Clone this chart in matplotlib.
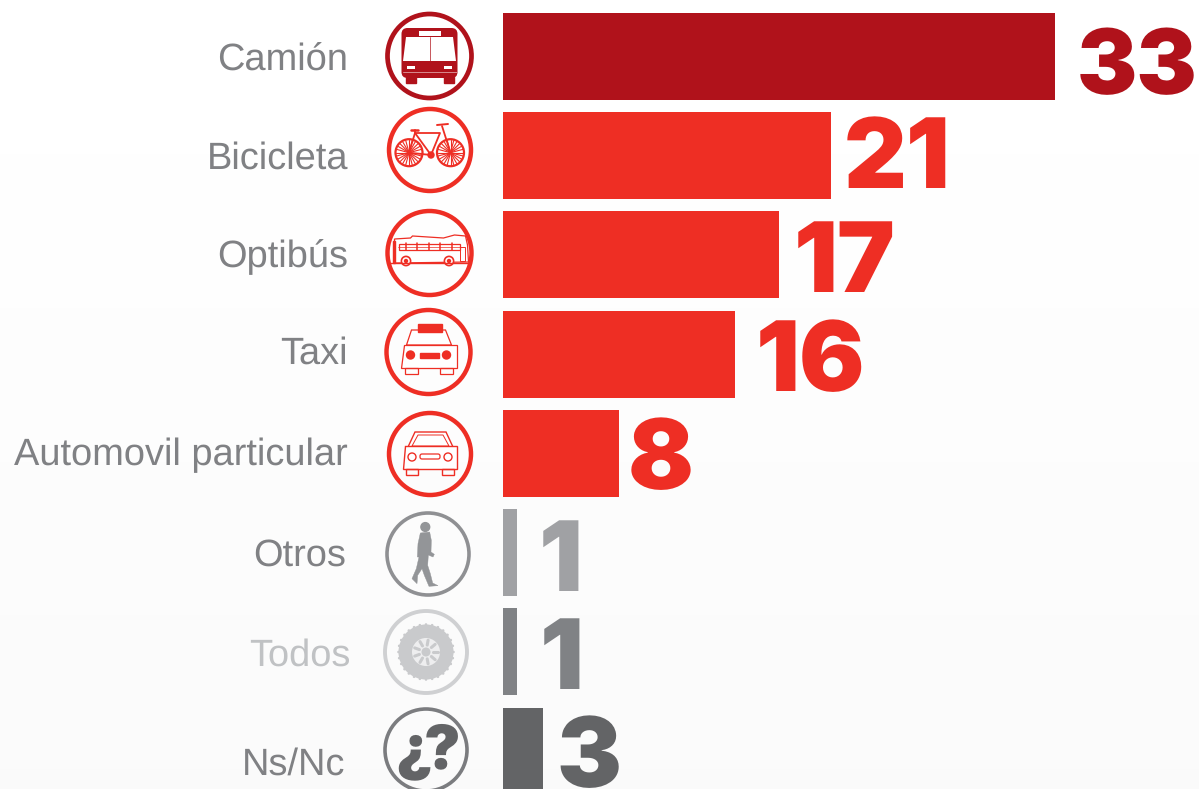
import matplotlib
matplotlib.use("Agg")
import matplotlib.pyplot as plt
from matplotlib.font_manager import FontProperties, findSystemFonts
from matplotlib.patches import Circle, Rectangle, Polygon, FancyBboxPatch
import numpy as np

categories = ["Camión", "Bicicleta", "Optibús", "Taxi", "Automovil particular", "Otros", "Todos", "Ns/Nc"]
# printed numbers
values = [33, 21, 17, 16, 8, 1, 1, 3]
# the drawn bars are not proportional to the printed numbers, so lengths are read separately
bar_lengths = [33, 19.6, 16.5, 13.87, 6.93, 0.84, 0.84, 2.39]

DARK = "#b0121b"
RED = "#ee2e24"
bar_colors = [DARK, RED, RED, RED, RED, "#a0a1a4", "#808285", "#636466"]
text_colors = ["#808184"] * 6 + ["#c0c2c4", "#808184"]
ring_colors = [DARK, RED, RED, RED, RED, "#8f9093", "#cfd0d2", "#7b7c7f"]

# autohinting thins the heavy digits, so it stays off
plt.rcParams["text.hinting"] = "none"

black_files = [f for f in findSystemFonts() if f.endswith("Inter-Black.otf")]


def heavy(size):
    if black_files:
        return FontProperties(fname=black_files[0], size=size)
    return FontProperties(family="Inter", weight=900, size=size)


W, H = 1199, 789
fig = plt.figure(figsize=(W / 100, H / 100), dpi=100)

# pixel axes for background, icons and text
ax = fig.add_axes([0, 0, 1, 1], zorder=0)
ax.axis("off")
grad = np.linspace(1.0, 0.98, 200).reshape(-1, 1)
ax.imshow(grad, extent=(0, W, H, 0), cmap="gray", vmin=0, vmax=1, aspect="auto", zorder=0)
ax.set_xlim(0, W)
ax.set_ylim(H, 0)

# bars
ax_bar = fig.add_axes([0, 0, 1, 1], zorder=1)
ax_bar.patch.set_alpha(0)
ax_bar.set_xlim(-503 / 16.73, (W - 503) / 16.73)
ax_bar.set_ylim(7.38, -0.566)
ax_bar.axis("off")
ax_bar.barh(np.arange(len(categories)), bar_lengths, height=0.876, color=bar_colors)

# text
label_x = [348, 348, 348, 348, 348, 346, 351, 345]
label_y = [61, 159, 257, 354, 455, 556, 656, 765]
for c, tc, x, y in zip(categories, text_colors, label_x, label_y):
    ax.text(x, y, c, ha="right", va="center", color=tc, fontsize=27.4,
            family="Liberation Sans", zorder=3)

num_x = [1077, 844, 794, 756, 628, 539, 540, 556]
num_base = [94, 188, 292, 391, 489, 591, 689, 787]
num_size = [65, 70, 70, 70, 70, 70, 70, 70]
for v, col, x, y, s in zip(values, bar_colors, num_x, num_base, num_size):
    ax.text(x, y, str(v), ha="left", va="baseline", color=col, fontproperties=heavy(s), zorder=3)


# icon helpers, all in pixels around the ring centre
def rect(cx, cy, x0, y0, x1, y1, col, fill=True, lw=1.0):
    ax.add_patch(Rectangle((cx + x0, cy + y0), x1 - x0, y1 - y0, fc=col if fill else "none",
                           ec=col, lw=lw, zorder=4))


def poly(cx, cy, pts, col, fill=True, lw=1.0, fc=None):
    pts = [(cx + a, cy + b) for a, b in pts]
    face = fc if fc else (col if fill else "none")
    ax.add_patch(Polygon(pts, closed=True, fc=face, ec=col, lw=lw, zorder=4))


def circ(cx, cy, x, y, r, col, fill=True, lw=1.0, fc=None):
    face = fc if fc else (col if fill else "none")
    ax.add_patch(Circle((cx + x, cy + y), r, fc=face, ec=col, lw=lw, zorder=5))


def line(cx, cy, pts, col, lw=1.0):
    xs = [cx + p[0] for p in pts]
    ys = [cy + p[1] for p in pts]
    ax.plot(xs, ys, color=col, lw=lw, solid_capstyle="round", zorder=6)


centers = [(429.5, 56), (430, 150), (429.5, 253), (428.5, 352), (430, 454), (428, 554), (426, 652), (426, 750)]
ring_r = [42, 41, 42, 42, 41, 41, 41, 41]
ring_w = [3.4, 3.2, 3.2, 3.2, 3.2, 2.6, 2.8, 2.6]
for (cx, cy), r, lw, col in zip(centers, ring_r, ring_w, ring_colors):
    ax.add_patch(Circle((cx, cy), r, fc="none", ec=col, lw=lw, zorder=4))


def bus_front(cx, cy, col):
    ax.add_patch(FancyBboxPatch((cx - 25, cy - 25), 50, 44, boxstyle="round,pad=3,rounding_size=6",
                                fc=col, ec=col, lw=0, zorder=4))
    rect(cx, cy, -24, 21, -14, 27, col)
    rect(cx, cy, 14, 21, 24, 27, col)
    poly(cx, cy, [(-23.5, -19), (23.5, -19), (26.5, 5), (-26.5, 5)], "white", lw=0)
    rect(cx, cy, -11, -25, 11, -20, "white", lw=0)
    line(cx, cy, [(0, -19), (0, 5)], col, lw=0.5)
    for x in (-18.5, 18.5):
        rect(cx, cy, x - 4, 9.5, x + 4, 12.5, "white", lw=0)
    line(cx, cy, [(-27, 16), (27, 16)], "#d98a8e", lw=0.7)


def bike(cx, cy, col):
    for x in (-21, 20.5):
        circ(cx, cy, x, 2.7, 13.5, col, fill=False, lw=1.6)
        for a in np.linspace(0, np.pi, 13)[:-1]:
            dx, dy = 13 * np.cos(a), 13 * np.sin(a)
            line(cx, cy, [(x - dx, 2.7 - dy), (x + dx, 2.7 + dy)], col, lw=0.8)
    line(cx, cy, [(-21, 2.7), (1, 5), (10, -17), (-15, -17), (1, 5)], col, lw=1.3)
    line(cx, cy, [(-21, 2.7), (-15, -17), (-15, -20)], col, lw=1.3)
    line(cx, cy, [(20.5, 2.7), (12, -24)], col, lw=1.3)
    line(cx, cy, [(-19, -20), (-12, -20)], col, lw=1.8)
    line(cx, cy, [(7, -25), (18, -26)], col, lw=1.4)
    circ(cx, cy, 1, 5, 3, col)


def bus_side(cx, cy, col):
    body = [(-35, -14), (-19, -15), (-17, -17), (14, -15), (25, -18), (36, -17), (38, -8), (39, 9), (-35, 10)]
    poly(cx, cy, body, col, lw=0.9, fc="white")
    rect(cx, cy, -31, -9, 30, -3, col, fill=False, lw=0.9)
    for x in np.arange(-24, 30, 11.5):
        line(cx, cy, [(x, -10), (x, -3)], col, lw=1.1)
    line(cx, cy, [(-32, -6), (30, -6)], col, lw=0.5)
    rect(cx, cy, 30, -6, 35, 8, col, fill=False, lw=0.7)
    line(cx, cy, [(-40, 10), (38, 10)], col, lw=1.0)
    rect(cx, cy, -37, -12, -35, 10, col)
    for x in (-23.5, 19.5):
        circ(cx, cy, x, 8, 4.6, col, lw=1.2, fc="white")
        circ(cx, cy, x, 8, 1.5, col)


def taxi(cx, cy, col):
    poly(cx, cy, [(-22, -7), (-17, -22), (17, -22), (23, -7)], col, lw=0.9, fc="white")
    rect(cx, cy, -10.5, -28, 13, -20, col)
    poly(cx, cy, [(-25, -7), (28, -7), (28, 16), (-28, 16)], col, lw=0.9, fc="white")
    rect(cx, cy, -24, 16, -11, 22, col, fill=False, lw=0.9)
    rect(cx, cy, 11, 16, 24, 22, col, fill=False, lw=0.9)
    circ(cx, cy, -18, 3, 4, col)
    circ(cx, cy, 18, 3, 4, col)
    rect(cx, cy, -9, 1, 10, 5.5, col)


def car(cx, cy, col):
    poly(cx, cy, [(-22, -7), (-15, -22), (16, -22), (23, -7)], col, lw=1.0, fc="white")
    poly(cx, cy, [(-18, -8), (-12, -19), (13, -19), (19, -8)], col, lw=0.7, fc="white")
    poly(cx, cy, [(-25, -8), (27, -8), (27, 15), (-27, 15)], col, lw=1.0, fc="white")
    rect(cx, cy, -24, 15, -12, 21, col, fill=False, lw=1.0)
    rect(cx, cy, 12, 15, 24, 21, col, fill=False, lw=1.0)
    circ(cx, cy, -18, 3, 4, col, lw=1.0, fc="white")
    circ(cx, cy, 18, 3, 4, col, lw=1.0, fc="white")
    ax.add_patch(FancyBboxPatch((cx - 9, cy + 1), 18, 3, boxstyle="round,pad=1,rounding_size=2",
                                fc="white", ec=col, lw=0.9, zorder=5))


def walker(cx, cy, col):
    zoomed = [(150, 398), (178, 395), (183, 420), (182, 455), (192, 462), (188, 470), (174, 464), (172, 495),
              (180, 520), (187, 548), (203, 556), (176, 558), (162, 525), (155, 505), (142, 525), (140, 550),
              (125, 535), (138, 505), (146, 470), (141, 470), (143, 430)]
    poly(cx, cy, [((a - 173) / 3, (b - 461) / 3) for a, b in zoomed], col, lw=0.3)
    circ(cx, cy, -2.7, -27, 4.4, col)


def tire(cx, cy, col):
    circ(cx, cy, 0, 0, 27.5, col, lw=0)
    for a in np.linspace(0, 2 * np.pi, 29)[:-1]:
        circ(cx, cy, 27.5 * np.cos(a), 27.5 * np.sin(a), 1.3, col, lw=0)
    circ(cx, cy, 0, 0, 14, "#eeeeef", lw=0)
    for a in np.linspace(0, 2 * np.pi, 10)[:-1]:
        line(cx, cy, [(7 * np.cos(a), 7 * np.sin(a)), (12 * np.cos(a), 12 * np.sin(a))], col, lw=2.2)
    circ(cx, cy, 0, 0, 4.5, col, lw=0)


bus_front(*centers[0], DARK)
bike(*centers[1], RED)
bus_side(*centers[2], RED)
taxi(*centers[3], RED)
car(*centers[4], RED)
walker(*centers[5], "#939598")
tire(*centers[6], "#c9cacc")

qc = "#636466"
qx, qy = centers[7]
ax.text(qx + 16, qy + 18, "?", ha="center", va="baseline", color=qc, fontproperties=heavy(44), zorder=5)
ax.text(qx - 12, qy + 18, "¿", ha="center", va="baseline", color=qc, fontproperties=heavy(44), zorder=5)

fig.savefig("out.png", dpi=100)
